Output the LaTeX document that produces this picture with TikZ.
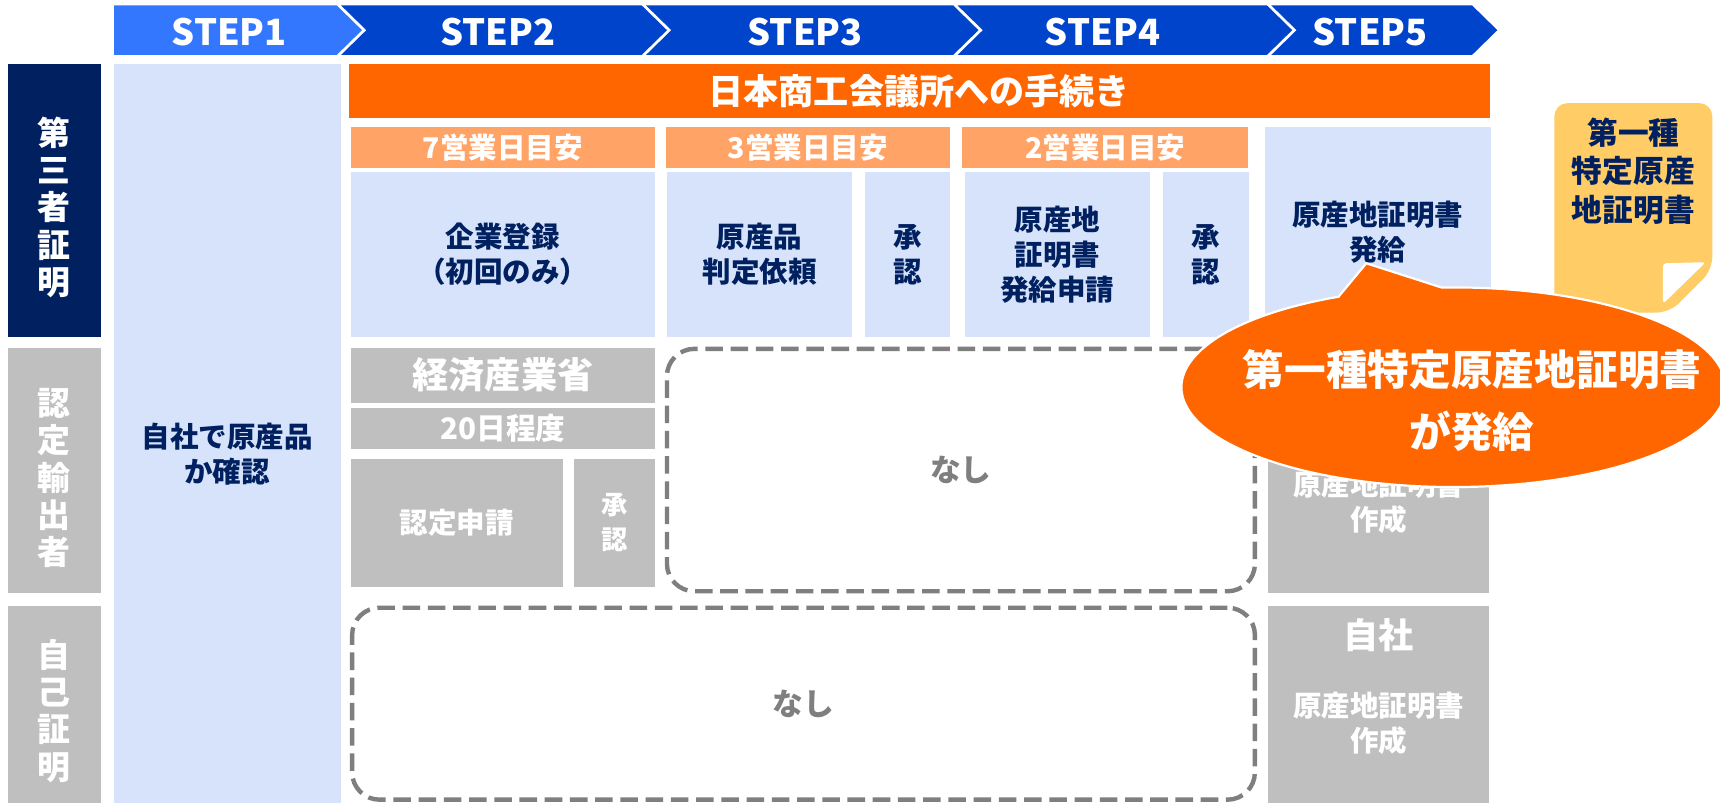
\documentclass[tikz,border=0pt]{standalone}
\usepackage{fontspec}
\setmainfont{Noto Sans CJK JP}
\usetikzlibrary{calc}
\definecolor{navy}{HTML}{002060}
\definecolor{stepA}{HTML}{3377FF}
\definecolor{stepB}{HTML}{0044CC}
\definecolor{lblue}{HTML}{D6E3FB}
\definecolor{orng}{HTML}{FF6600}
\definecolor{lorng}{HTML}{FFA366}
\definecolor{gry}{HTML}{BFBFBF}
\definecolor{dgry}{HTML}{7F7F7F}
\definecolor{ylw}{HTML}{FFCC66}
\newcommand\fs[2]{\fontsize{#1}{#2}\selectfont\bfseries}
% name, style, x1, y1, x2, y2, text
\newcommand\cellbox[7]{\node[cell,#2,minimum width={(#5-#3)*1pt},minimum height={(#6-#4)*1pt}] (#1) at (#3,#4) {#7};}
\begin{document}
\begin{tikzpicture}[x=1pt,y=-1pt,
  cell/.style={rectangle, inner sep=0pt, outer sep=0pt, anchor=north west, align=center},
  bluec/.style={fill=lblue, text=navy, font=\fs{26}{32}},
  greyc/.style={fill=gry, text=white, font=\fs{26}{32}},
  subh/.style={fill=lorng, text=white, font=\fs{26}{30}},
  steplbl/.style={text=white, font=\fs{33}{36}, inner sep=0pt},
  vlab/.style={text=white, font=\fs{30}{34}, align=center, inner sep=0pt},
  freetxt/.style={align=center, inner sep=0pt},
  dashbox/.style={cell, draw=dgry, line width=4pt, dash pattern=on 16pt off 7pt, rounded corners=25pt, text=dgry, font=\fs{28}{32}}
]
\useasboundingbox (0,0) rectangle (1568,732);
\fill[white] (0,0) rectangle (1568,732);

% STEP banner
\fill[stepA] (104,5) -- (307,5) -- (330,27.5) -- (307,50) -- (104,50) -- cycle;
\fill[stepB] (311,5) -- (585,5) -- (608,27.5) -- (585,50) -- (311,50) -- (334,27.5) -- cycle;
\fill[stepB] (589,5) -- (869,5) -- (892,27.5) -- (869,50) -- (589,50) -- (612,27.5) -- cycle;
\fill[stepB] (873,5) -- (1155,5) -- (1178,27.5) -- (1155,50) -- (873,50) -- (896,27.5) -- cycle;
\fill[stepB] (1159,5) -- (1342,5) -- (1365,27.5) -- (1342,50) -- (1159,50) -- (1182,27.5) -- cycle;
\node[steplbl] (st1) at (209,29) {STEP1};
\node[steplbl] (st2) at (454,29) {STEP2};
\node[steplbl] (st3) at (734,29) {STEP3};
\node[steplbl] (st4) at (1005,29) {STEP4};
\node[steplbl] (st5) at (1249,29) {STEP5};

% left labels
\cellbox{L1}{fill=navy}{7}{58}{92}{307}{}
\cellbox{L2}{fill=gry}{7}{317}{92}{541}{}
\cellbox{L3}{fill=gry}{7}{552}{92}{732}{}
\node[vlab] (v1) at (49.5,189) {第\\三\\者\\証\\明};
\node[vlab] (v2) at (49.5,436) {認\\定\\輸\\出\\者};
\node[vlab] (v3) at (49.5,648) {自\\己\\証\\明};

% STEP1 column
\cellbox{c1}{fill=lblue}{104}{58}{311}{732}{}
\node[freetxt, text=navy, font=\fs{26}{32}] (c1t) at (207,414) {自社で原産品\\か確認};

% header
\cellbox{hdr}{fill=orng, text=white, font=\fs{32}{36}}{318}{58}{1358}{108}{日本商工会議所への手続き}
\cellbox{sh1}{subh}{320}{116}{597}{153}{7営業日目安}
\cellbox{sh2}{subh}{607}{116}{866}{153}{3営業日目安}
\cellbox{sh3}{subh}{877}{116}{1138}{153}{2営業日目安}

% blue boxes
\cellbox{b1}{bluec}{320}{157}{597}{307}{企業登録\\（初回のみ）}
\cellbox{b2}{bluec}{608}{157}{777}{307}{原産品\\判定依頼}
\cellbox{b3}{bluec}{789}{157}{866}{307}{承\\認}
\cellbox{b4}{bluec}{880}{157}{1048}{307}{原産地\\証明書\\発給申請}
\cellbox{b5}{bluec}{1060}{157}{1139}{307}{承\\認}
\cellbox{b6}{bluec}{1153}{116}{1359}{307}{原産地証明書\\発給}

% grey boxes
\cellbox{g1}{greyc, font=\fs{33}{36}}{320}{317}{597}{367}{経済産業省}
\cellbox{g2}{greyc, font=\fs{27}{30}}{320}{372}{597}{409}{20日程度}
\cellbox{g3}{greyc}{320}{418}{513}{535}{認定申請}
\cellbox{g4}{greyc, font=\fs{24}{32}}{523}{418}{597}{535}{承\\認}
\cellbox{g5}{fill=gry}{1156}{317}{1357}{541}{}
\node[freetxt, text=white, font=\fs{26}{32}] (g5t) at (1257,458) {原産地証明書\\作成};
\cellbox{g6}{fill=gry}{1156}{552}{1357}{732}{}
\node[freetxt, text=white, font=\fs{32}{36}] (g6a) at (1257,579) {自社};
\node[freetxt, text=white, font=\fs{26}{32}] (g6b) at (1257,659) {原産地証明書\\作成};

% dashed boxes
\cellbox{n1}{dashbox}{608}{318}{1144}{539}{なし}
\cellbox{n2}{dashbox}{321}{554}{1144}{729}{なし}

% yellow document
\fill[ylw, rounded corners=12pt] (1417,94) -- (1561,94) -- (1561,246) -- (1522,285) -- (1417,285) -- cycle;
\fill[white, rounded corners=3pt] (1516,240) -- (1555,239) -- (1516,277) -- cycle;
\node[freetxt, text=navy, font=\fs{28}{35}] (doc) at (1489,156) {第一種\\特定原産\\地証明書};

% callout bubble
\coordinate (bc) at (1325,353);
\coordinate (tip) at (1245.5,240);
\filldraw[fill=orng, draw=white, line width=2pt] ($(bc)+(-92.5:248 and 91)$) arc[start angle=-92.5, end angle=245, x radius=248, y radius=91] -- (tip) -- cycle;
\node[freetxt, text=white, font=\fs{38}{56}] (bt) at (1342,365) {第一種特定原産地証明書\\が発給};
\end{tikzpicture}
\end{document}
